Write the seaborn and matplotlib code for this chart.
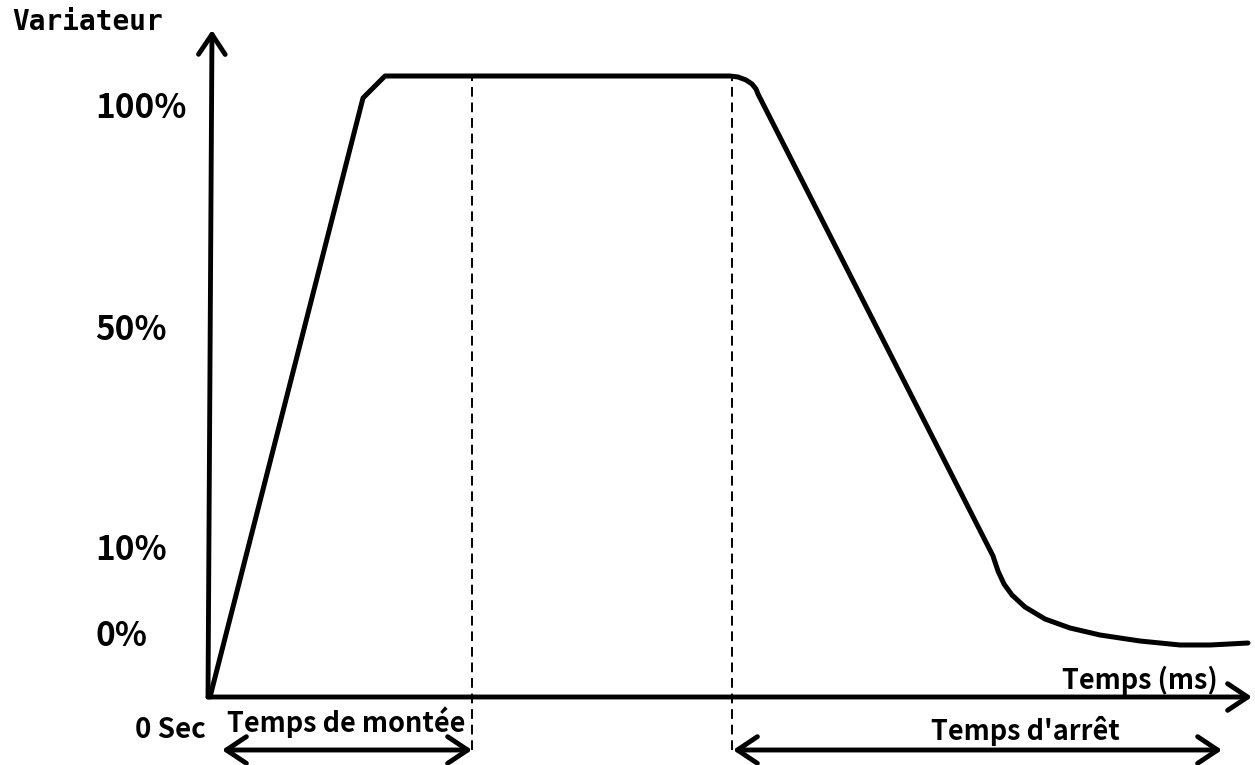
import matplotlib
matplotlib.use("Agg")
import matplotlib.pyplot as plt
import seaborn as sns

# curve of the variator output (time units, level units)
t = [0, 153, 175, 520, 528, 536, 542, 546, 548, 783, 788, 794, 802, 815, 835, 860, 890, 930, 970, 1000, 1038]
v = [0, 599, 621, 621, 620, 617, 613, 608, 603, 141, 126, 113, 102, 90, 78, 69, 62, 56, 52, 52, 54]

# level axis labels
tick_pos = [589, 367, 147, 60]
tick_labels = ["100%", "50%", "10%", "0%"]

# phase limits
rise_end = 262
stop_start = 522
stop_end = 1012
plateau = 621

sns.set_theme(style="white")
plt.rcParams['font.family'] = ['Noto Sans CJK JP', 'DejaVu Sans']

fig = plt.figure(figsize=(12.55, 7.65), dpi=100)
ax = fig.add_axes([0, 0, 1, 1])
ax.set_xlim(-210, 1045)
ax.set_ylim(-68, 697)
ax.axis("off")

#main curve
sns.lineplot(x=t, y=v, sort=False, color="black", lw=3.6, ax=ax,
             solid_joinstyle="round", solid_capstyle="round")

#dashed markers
ax.vlines([rise_end, stop_start], -53, plateau, colors="black", lw=1.4,
          linestyles=(0, (5, 3)))

arrow = dict(arrowstyle="->,head_length=0.9,head_width=0.6", lw=3.5,
             color="black", mutation_scale=16, shrinkA=0, shrinkB=0)
both = dict(arrow, arrowstyle="<->,head_length=0.9,head_width=0.6")

#axes with arrows
ax.annotate("", xy=(2, 667), xytext=(-2, 0), arrowprops=arrow)
ax.annotate("", xy=(1042, 0), xytext=(-2, 0), arrowprops=arrow)

#duration arrows
ax.annotate("", xy=(rise_end, -53), xytext=(12, -53), arrowprops=both)
ax.annotate("", xy=(stop_end, -53), xytext=(stop_start + 1, -53), arrowprops=both)

for p, lab in zip(tick_pos, tick_labels):
    ax.text(-115, p, lab, fontsize=24, fontweight="bold", ha="left", va="center", color="black")

ax.text(-198, 675, "Variateur", fontsize=20, fontweight="bold", ha="left",
        va="center", family="DejaVu Sans Mono", color="black")
ax.text(-75, -33, "0 Sec", fontsize=20, fontweight="bold", ha="left", va="center", color="black")
ax.text(136, -25, "Temps de montée", fontsize=19.5, fontweight="bold", ha="center", va="center", color="black")
ax.text(1008, 17, "Temps (ms)", fontsize=19.5, fontweight="bold", ha="right", va="center", color="black")
ax.text(815, -34, "Temps d'arrêt", fontsize=19.5, fontweight="bold", ha="center", va="center", color="black")

fig.savefig("out.png", dpi=100)
